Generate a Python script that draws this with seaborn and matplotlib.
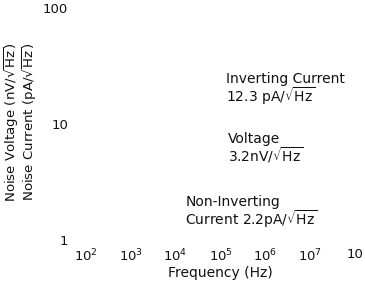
import matplotlib
matplotlib.use("Agg")
import matplotlib.pyplot as plt
import seaborn as sns

# axis decades shown on the chart
freq_ticks = [1e2, 1e3, 1e4, 1e5, 1e6, 1e7, 1e8]
freq_labels = ["$10^{2}$", "$10^{3}$", "$10^{4}$", "$10^{5}$", "$10^{6}$", "$10^{7}$", "10"]
noise_ticks = [1, 10, 100]
noise_labels = ["1", "10", "100"]
ylabel_lines = ["Noise Voltage (nV/$\\sqrt{\\mathrm{Hz}}$)", "Noise Current (pA/$\\sqrt{\\mathrm{Hz}}$)"]

# curve annotations (text, anchor frequency, anchor noise level)
note_texts = [
    "Inverting Current\n12.3 pA/$\\sqrt{\\mathrm{Hz}}$",
    "Voltage\n3.2nV/$\\sqrt{\\mathrm{Hz}}$",
    "Non-Inverting\nCurrent 2.2pA/$\\sqrt{\\mathrm{Hz}}$",
]
note_freq = [1.3e5, 1.45e5, 1.65e4]
note_noise = [28.0, 8.5, 2.45]

sns.set_theme(style="white")
plt.rcParams["font.family"] = ["DejaVu Sans"]
plt.rcParams["mathtext.fontset"] = "dejavusans"

fig = plt.figure(figsize=(3.65, 2.81), dpi=100)
ax = fig.add_axes([0.2356, 0.146, 0.737, 0.8255])
ax.set_xscale("log")
ax.set_yscale("log")
ax.set_xlim(freq_ticks[0], freq_ticks[-1])
ax.set_ylim(noise_ticks[0], noise_ticks[-1])

ax.set_xticks(freq_ticks)
ax.set_xticklabels(freq_labels)
ax.set_yticks(noise_ticks)
ax.set_yticklabels(noise_labels)
ax.minorticks_off()
ax.tick_params(axis="x", length=0, pad=5.5, labelsize=9.5, colors="#111111")
ax.tick_params(axis="y", length=0, pad=13, labelsize=9.5, colors="#111111")

ax.set_xlabel("Frequency (Hz)", fontsize=10, labelpad=1.5, color="#111111")

# two-line y label, placed line by line to keep the lines close together
for i, line in enumerate(ylabel_lines):
    fig.text((11.5 + 18 * i) / 365, 0.566, line, rotation=90, ha="center", va="center",
             fontsize=9.6, color="#111111")

for txt, fx, ny in zip(note_texts, note_freq, note_noise):
    ax.text(fx, ny, txt, ha="left", va="top", fontsize=10, color="#111111", linespacing=0.95)

sns.despine(ax=ax, left=True, bottom=True)
ax.grid(False)

fig.savefig("out.png", dpi=100, facecolor="white")
